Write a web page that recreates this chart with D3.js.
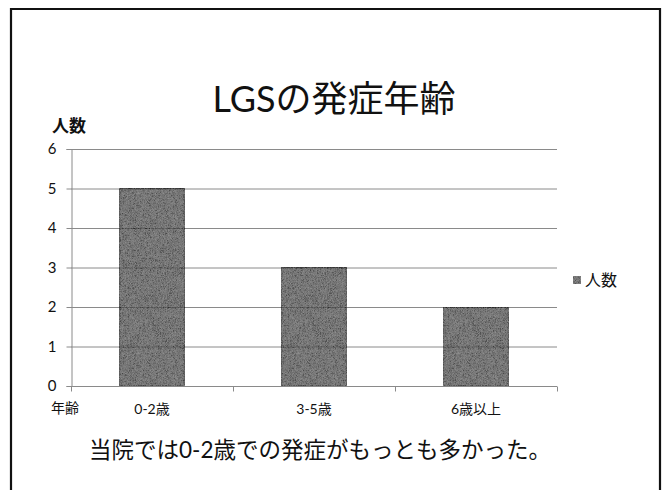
<!DOCTYPE html>
<html>
<head>
<meta charset="utf-8">
<script src="https://cdn.jsdelivr.net/npm/d3@7"></script>
<style>
  html, body { margin: 0; padding: 0; background: #fff; }
  svg { display: block; }
  text { font-family: "Lato", "Noto Sans CJK JP", sans-serif; fill: #111; }
</style>
</head>
<body>
<script>
// Onset age of LGS patients at our clinic
const categories = ["0-2歳", "3-5歳", "6歳以上"];
const counts = [5, 3, 2];
const yTicks = [0, 1, 2, 3, 4, 5, 6];
const seriesName = "人数";

const W = 668, H = 490;
const svg = d3.select("body").append("svg").attr("width", W).attr("height", H);

// grainy fill for the bars
const defs = svg.append("defs");
const f = defs.append("filter").attr("id", "grain").attr("x", 0).attr("y", 0).attr("width", 1).attr("height", 1);
f.append("feTurbulence").attr("type", "fractalNoise").attr("baseFrequency", 1.6).attr("numOctaves", 1).attr("seed", 3).attr("result", "noise");
f.append("feColorMatrix").attr("in", "noise").attr("type", "saturate").attr("values", 0).attr("result", "gray");
f.append("feComposite").attr("in", "SourceGraphic").attr("in2", "gray").attr("operator", "arithmetic")
  .attr("k1", 0).attr("k2", 0.7).attr("k3", 0.4).attr("k4", -0.17).attr("result", "mix");
f.append("feComposite").attr("in", "mix").attr("in2", "SourceAlpha").attr("operator", "in");

// slide frame
svg.append("path")
  .attr("d", `M11,${H + 5} L11,9 L660,9 L660,${H + 5}`)
  .attr("fill", "none").attr("stroke", "#111").attr("stroke-width", 2.2);

// title
svg.append("text").attr("x", 334).attr("y", 112).attr("text-anchor", "middle")
  .style("font-size", "36px").text("LGSの発症年齢");

const plot = { left: 71, right: 557, top: 149, bottom: 386 };

const x = d3.scaleBand().domain(categories).range([plot.left, plot.right]).paddingInner(0.6).paddingOuter(0.3);
const xCat = d3.scaleBand().domain(categories).range([plot.left, plot.right]);
const y = d3.scaleLinear().domain([0, 6]).range([plot.bottom, plot.top]);

// horizontal gridlines
svg.append("g").selectAll("line").data(yTicks.filter(d => d > 0)).join("line")
  .attr("x1", plot.left).attr("x2", plot.right)
  .attr("y1", d => y(d) + 0.5).attr("y2", d => y(d) + 0.5)
  .attr("stroke", "#8a8a8a").attr("stroke-width", 1);

// y axis
const yAxis = svg.append("g").attr("transform", `translate(${plot.left + 0.5},0)`)
  .call(d3.axisLeft(y).tickValues(yTicks).tickSize(5).tickPadding(10).tickFormat(d3.format("d")));
yAxis.select(".domain").attr("stroke", "#8a8a8a");
yAxis.selectAll(".tick line").attr("stroke", "#8a8a8a");
yAxis.selectAll(".tick text").style("font-size", "15px").style("font-family", "Lato, 'Noto Sans CJK JP', sans-serif").attr("fill", "#111");

// bars
svg.append("g").selectAll("rect").data(categories).join("rect")
  .attr("x", d => x(d)).attr("width", x.bandwidth())
  .attr("y", (d, i) => y(counts[i])).attr("height", (d, i) => y(0) - y(counts[i]))
  .attr("fill", "#707070").attr("stroke", "#555").attr("stroke-width", 1)
  .attr("filter", "url(#grain)");

// x axis with category-boundary ticks
const xAxis = svg.append("g").attr("transform", `translate(0,${plot.bottom + 0.5})`);
xAxis.append("line").attr("x1", plot.left).attr("x2", plot.right).attr("stroke", "#8a8a8a");
const bounds = categories.map(c => xCat(c)).concat([plot.right]);
xAxis.selectAll("line.tk").data(bounds).join("line").attr("class", "tk")
  .attr("x1", d => d + 0.5).attr("x2", d => d + 0.5).attr("y1", 0).attr("y2", 5).attr("stroke", "#8a8a8a");
xAxis.selectAll("text").data(categories).join("text")
  .attr("x", d => xCat(d) + xCat.bandwidth() / 2).attr("y", 27)
  .attr("text-anchor", "middle").style("font-size", "14px").text(d => d);

// axis titles
svg.append("text").attr("x", 52).attr("y", 132).style("font-size", "17px").style("font-weight", "bold").text("人数");
svg.append("text").attr("x", 51).attr("y", 413).style("font-size", "14px").text("年齢");

// legend
const lg = svg.append("g").attr("transform", "translate(573,280)");
lg.append("rect").attr("x", 0).attr("y", -4).attr("width", 8).attr("height", 8)
  .attr("fill", "#707070").attr("filter", "url(#grain)");
lg.append("text").attr("x", 12).attr("y", 6).style("font-size", "16px").text(seriesName);

// caption
svg.append("text").attr("x", 320).attr("y", 458).attr("text-anchor", "middle")
  .style("font-size", "22.5px").text("当院では0-2歳での発症がもっとも多かった。");
</script>
</body>
</html>
